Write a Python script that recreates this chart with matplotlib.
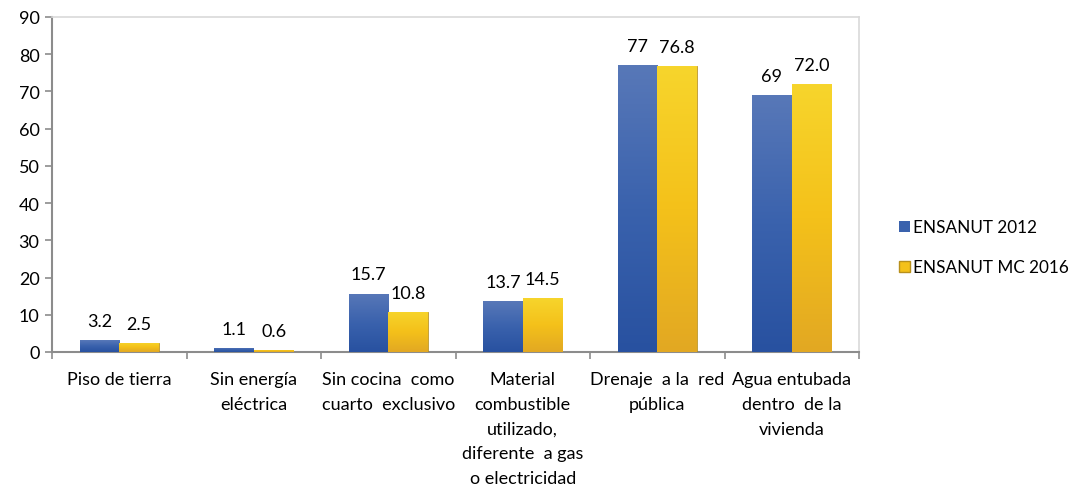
import numpy as np
import matplotlib.pyplot as plt
from matplotlib.colors import LinearSegmentedColormap
from matplotlib.patches import Patch

plt.rcParams['font.family'] = ['Lato', 'DejaVu Sans']

categories = [
    'Piso de tierra',
    'Sin energía\neléctrica',
    'Sin cocina  como\ncuarto  exclusivo',
    'Material\ncombustible\nutilizado,\ndiferente  a gas\no electricidad',
    'Drenaje  a la  red\npública',
    'Agua entubada\ndentro  de la\nvivienda',
]
ensanut_2012 = [3.2, 1.1, 15.7, 13.7, 77, 69]
ensanut_2016 = [2.5, 0.6, 10.8, 14.5, 76.8, 72.0]
labels_2012 = ['3.2', '1.1', '15.7', '13.7', '77', '69']
labels_2016 = ['2.5', '0.6', '10.8', '14.5', '76.8', '72.0']
series_names = ['ENSANUT 2012', 'ENSANUT MC 2016']

blue_cmap = LinearSegmentedColormap.from_list('b', ['#2851a0', '#3a62ad', '#5878b8'])
yellow_cmap = LinearSegmentedColormap.from_list('y', ['#e2a823', '#f4c11a', '#f7d52c'])
FS = 13


def gradient_fill(ax, bars, cmap):
    grad = np.linspace(0, 1, 256).reshape(-1, 1)
    for b in bars:
        x0, y0 = b.get_x(), b.get_y()
        w, h = b.get_width(), b.get_height()
        im = ax.imshow(grad, cmap=cmap, aspect='auto', origin='lower',
                       extent=(x0, x0 + w, y0, y0 + h), zorder=b.get_zorder())
        im.set_clip_path(b)
        b.set_facecolor('none')


fig = plt.figure(figsize=(10.73, 4.85), dpi=100)
ax = fig.add_axes([0.0485, 0.2722, 0.7521, 0.6907])

x = np.arange(len(categories))
w = 0.295
bars1 = ax.bar(x - w / 2, ensanut_2012, w, color='#3a62ad', edgecolor='none', zorder=3)
bars2 = ax.bar(x + w / 2, ensanut_2016, w, color='#f4c11a', edgecolor='#b8901c',
               linewidth=0.6, zorder=3)
gradient_fill(ax, bars1, blue_cmap)
gradient_fill(ax, bars2, yellow_cmap)

for b, t in zip(bars1, labels_2012):
    ax.annotate(t, (b.get_x() + b.get_width() / 2, b.get_height()),
                xytext=(0, 8), textcoords='offset points',
                ha='center', va='bottom', fontsize=FS)
for b, t in zip(bars2, labels_2016):
    ax.annotate(t, (b.get_x() + b.get_width() / 2, b.get_height()),
                xytext=(0, 8), textcoords='offset points',
                ha='center', va='bottom', fontsize=FS)

ax.set_xlim(-0.5, len(categories) - 0.5)
ax.set_ylim(0, 90)
ax.set_yticks(np.arange(0, 91, 10))
ax.set_xticks(x)
ax.set_xticklabels(categories, fontsize=FS, linespacing=1.66, va='top')
ax.tick_params(axis='x', length=0, pad=14)
ax.set_xticks(np.arange(-0.5, len(categories)), minor=True)
ax.tick_params(axis='x', which='minor', length=5, color='#8c8c8c', width=1.2)
ax.tick_params(axis='y', length=5, color='#8c8c8c', width=1.2, labelsize=FS, pad=4)

for side in ['left', 'bottom']:
    ax.spines[side].set_color('#8c8c8c')
    ax.spines[side].set_linewidth(1.5)
for side in ['top', 'right']:
    ax.spines[side].set_color('#d9d9d9')
    ax.spines[side].set_linewidth(1.2)

handles = [Patch(facecolor='#3a62ad', edgecolor='none'),
           Patch(facecolor='#f4c11a', edgecolor='#b8901c')]
fig.legend(handles, series_names, loc='center left', bbox_to_anchor=(0.8375, 0.488),
           frameon=False, fontsize=12.3, handlelength=0.65, handleheight=0.65,
           handletextpad=0.2, labelspacing=1.4, borderpad=0, borderaxespad=0)

fig.savefig('out.png', dpi=100)
